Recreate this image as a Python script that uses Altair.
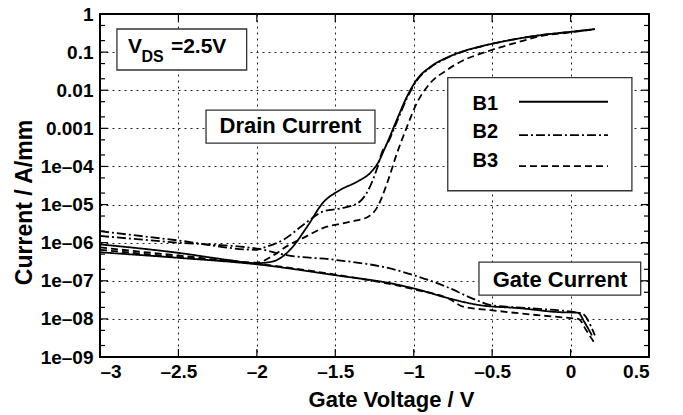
import altair as alt
import pandas as pd

# ---------------- data (gate voltage in V, current in A/mm) ----------------
b1_drain_x = [-3.0, -2.5, -2.2, -2.0, -1.9, -1.79, -1.68, -1.58, -1.47, -1.36, -1.28, -1.23,
              -1.17, -1.107, -1.043, -0.98, -0.897, -0.788, -0.686, -0.578, -0.431, -0.215, 0.0, 0.155]
b1_drain_y = [9.0e-7, 5.4e-7, 3.6e-7, 2.9e-7, 3.2e-7, 6.4e-7, 2.6e-6, 1.1e-5, 2.4e-5, 4.0e-5, 6.6e-5, 1.2e-4,
              4.1e-4, 1.7e-3, 6.8e-3, 1.9e-2, 4.0e-2, 7.2e-2, 0.105, 0.14, 0.19, 0.27, 0.34, 0.40]

b2_drain_x = [-3.0, -2.5, -2.0, -1.98, -1.83, -1.68, -1.58, -1.47, -1.36, -1.30, -1.23, -1.2,
              -1.17, -1.107, -1.043, -0.98, -0.897, -0.788, -0.686, -0.578, -0.431, -0.215, 0.0, 0.155]
b2_drain_y = [2.0e-6, 1.14e-6, 6.5e-7, 6.9e-7, 1.2e-6, 3.5e-6, 6.5e-6, 7.9e-6, 1.07e-5, 2.0e-5, 9.8e-5, 2.5e-4,
              3.8e-4, 1.5e-3, 6.2e-3, 1.8e-2, 3.9e-2, 7.0e-2, 0.103, 0.138, 0.19, 0.27, 0.34, 0.40]

b3_drain_x = [-3.0, -2.5, -2.0, -1.9, -1.8, -1.71, -1.58, -1.41, -1.29, -1.23, -1.17, -1.107,
              -1.043, -0.98, -0.897, -0.788, -0.686, -0.578, -0.5, -0.431, -0.3, -0.215, 0.0, 0.155]
b3_drain_y = [7.5e-7, 4.6e-7, 3.0e-7, 4.5e-7, 8.5e-7, 1.3e-6, 2.4e-6, 3.5e-6, 4.8e-6, 8.8e-6, 3.6e-5, 2.2e-4,
              1.1e-3, 4.6e-3, 1.5e-2, 3.4e-2, 6.0e-2, 9.0e-2, 0.115, 0.14, 0.20, 0.25, 0.33, 0.40]

b1_gate_x = [-3.0, -2.5, -2.0, -1.5, -1.09, -0.96, -0.77, -0.58, -0.32, -0.07, 0.047, 0.09, 0.136]
b1_gate_y = [5.6e-7, 4.0e-7, 2.7e-7, 1.4e-7, 7.7e-8, 5.7e-8, 3.4e-8, 2.3e-8, 1.9e-8, 1.5e-8, 1.45e-8, 8.0e-9, 3.7e-9]

b2_gate_x = [-3.0, -2.5, -2.0, -1.81, -1.49, -1.15, -1.0, -0.79, -0.6, -0.51, -0.25, 0.07, 0.155]
b2_gate_y = [1.5e-6, 1.0e-6, 7.0e-7, 4.7e-7, 3.5e-7, 2.1e-7, 1.4e-7, 6.9e-8, 3.1e-8, 2.3e-8, 1.9e-8, 1.4e-8, 3.7e-9]

b3_gate_x = [-3.0, -2.5, -2.0, -1.5, -1.0, -0.77, -0.686, -0.51, -0.25, 0.0, 0.05, 0.1, 0.15]
b3_gate_y = [6.5e-7, 4.2e-7, 2.8e-7, 1.45e-7, 6.0e-8, 3.3e-8, 2.1e-8, 1.7e-8, 1.3e-8, 1.05e-8, 1.0e-8, 5.0e-9, 2.4e-9]

x_ticks = [-3, -2.5, -2, -1.5, -1, -0.5, 0, 0.5]
y_ticks = [1e-9, 1e-8, 1e-7, 1e-6, 1e-5, 1e-4, 1e-3, 1e-2, 1e-1, 1]
y_minor = [m * 10.0 ** d for d in range(-9, 0) for m in (2, 5)]

devices = ["B1", "B2", "B3"]

# annotation boxes (data coordinates)
box_x1 = [-2.892, -2.324, -0.584, -0.783]
box_x2 = [-2.065, -1.247, 0.447, 0.391]
box_y1 = [0.404, 3.02e-3, 3.1e-7, 0.0213]
box_y2 = [0.0339, 4.11e-4, 4.2e-8, 2.3e-5]

label_text = ["Drain Current", "Gate Current"]
label_x = [-1.786, -0.0675]
label_y = [7.4e-4, 6.84e-8]

vds_text = ["V", "DS", "=2.5V"]
vds_x = [-2.8215, -2.735, -2.548]
vds_y = [0.0947, 0.055, 0.0947]
vds_size = [21, 16, 21]

leg_label_x = -0.625
leg_label_y = [3.02e-3, 5.56e-4, 9.64e-5]
leg_line_x1 = -0.329
leg_line_x2 = 0.2386
leg_line_y = [4.99e-3, 6.67e-4, 1.02e-4]

# ---------------- build tables ----------------
curves = [
    ("B1", "drain", b1_drain_x, b1_drain_y),
    ("B2", "drain", b2_drain_x, b2_drain_y),
    ("B3", "drain", b3_drain_x, b3_drain_y),
    ("B1", "gate", b1_gate_x, b1_gate_y),
    ("B2", "gate", b2_gate_x, b2_gate_y),
    ("B3", "gate", b3_gate_x, b3_gate_y),
]
rows = []
for dev, kind, xs, ys in curves:
    for i, (xv, yv) in enumerate(zip(xs, ys)):
        rows.append({"device": dev, "curve": dev + kind, "vg": xv, "cur": yv, "i": i})
df = pd.DataFrame(rows)

FONT = "Liberation Sans"
W, H = 549, 343

xscale = alt.Scale(domain=[-3, 0.5], nice=False, zero=False)
yscale = alt.Scale(type="log", domain=[1e-9, 1], nice=False)
dash_scale = alt.Scale(domain=devices, range=[[1, 0], [9, 3, 2, 3], [7, 4]])

x_axis = alt.Axis(
    values=x_ticks,
    labelExpr="datum.value < 0 ? '\u2013' + toString(-datum.value) : toString(datum.value)",
    labelFont=FONT, labelFontSize=19, labelFontWeight="bold", labelColor="black",
    labelPadding=5, ticks=False, domain=False,
    grid=True, gridDash=[2, 4], gridColor="#222", gridWidth=1,
    title="Gate Voltage / V", titleFont=FONT, titleFontSize=22, titleFontWeight="bold",
    titleColor="black", titleX=291, titleY=49, titleBaseline="alphabetic", titleAlign="center",
)
y_axis = alt.Axis(
    values=y_ticks,
    labelExpr="datum.value >= 0.001 ? toString(datum.value) : '1e\u20130' + toString(-round(log(datum.value)/LN10))",
    labelFont=FONT, labelFontSize=19, labelFontWeight="bold", labelColor="black",
    labelPadding=7, ticks=False, domain=False,
    grid=True, gridDash=[2, 4], gridColor="#222", gridWidth=1,
    title="Current / A/mm", titleFont=FONT, titleFontSize=23, titleFontWeight="bold",
    titleColor="black", titleX=-69, titleY=188, titleBaseline="alphabetic", titleAlign="center",
    titleAngle=270,
)

lines = alt.Chart(df).mark_line(color="black", strokeWidth=1.8, clip=True, interpolate="monotone").encode(
    x=alt.X("vg:Q", scale=xscale, axis=x_axis),
    y=alt.Y("cur:Q", scale=yscale, axis=y_axis),
    strokeDash=alt.StrokeDash("device:N", scale=dash_scale, legend=None),
    detail="curve:N",
    order="i:Q",
)

# inward ticks
ymaj = pd.DataFrame({"v": y_ticks})
ymin = pd.DataFrame({"v": y_minor})
xmaj = pd.DataFrame({"v": x_ticks})
tk = dict(color="black", strokeWidth=1.2)
ticks = [
    alt.Chart(ymaj).mark_rule(**tk).encode(y=alt.Y("v:Q", scale=yscale), x=alt.value(0), x2=alt.value(8)),
    alt.Chart(ymin).mark_rule(**tk).encode(y=alt.Y("v:Q", scale=yscale), x=alt.value(0), x2=alt.value(5)),
    alt.Chart(ymaj).mark_rule(**tk).encode(y=alt.Y("v:Q", scale=yscale), x=alt.value(W), x2=alt.value(W - 8)),
    alt.Chart(ymin).mark_rule(**tk).encode(y=alt.Y("v:Q", scale=yscale), x=alt.value(W), x2=alt.value(W - 5)),
    alt.Chart(xmaj).mark_rule(**tk).encode(x=alt.X("v:Q", scale=xscale), y=alt.value(0), y2=alt.value(8)),
    alt.Chart(xmaj).mark_rule(**tk).encode(x=alt.X("v:Q", scale=xscale), y=alt.value(H), y2=alt.value(H - 8)),
]

boxes_df = pd.DataFrame({"x1": box_x1, "x2": box_x2, "y1": box_y1, "y2": box_y2})
boxes = alt.Chart(boxes_df).mark_rect(fill="white", stroke="#333", strokeWidth=1.3).encode(
    x=alt.X("x1:Q", scale=xscale), x2="x2:Q",
    y=alt.Y("y1:Q", scale=yscale), y2="y2:Q",
)

labels_df = pd.DataFrame({"t": label_text, "x": label_x, "y": label_y})
labels = alt.Chart(labels_df).mark_text(
    font=FONT, fontSize=22, fontWeight="bold", color="black", align="center", baseline="alphabetic"
).encode(x=alt.X("x:Q", scale=xscale), y=alt.Y("y:Q", scale=yscale), text="t:N")

vds_df = pd.DataFrame({"t": vds_text, "x": vds_x, "y": vds_y, "s": vds_size})
vds = alt.Chart(vds_df).mark_text(
    font=FONT, fontWeight="bold", color="black", align="left", baseline="alphabetic"
).encode(
    x=alt.X("x:Q", scale=xscale), y=alt.Y("y:Q", scale=yscale), text="t:N",
    size=alt.Size("s:Q", scale=None, legend=None),
)

leg_df = pd.DataFrame({"device": devices, "y": leg_line_y, "ly": leg_label_y,
                       "x1": [leg_line_x1] * 3, "x2": [leg_line_x2] * 3, "lx": [leg_label_x] * 3})
leg_lines = alt.Chart(leg_df).mark_rule(color="black", strokeWidth=1.8).encode(
    x=alt.X("x1:Q", scale=xscale), x2="x2:Q",
    y=alt.Y("y:Q", scale=yscale),
    strokeDash=alt.StrokeDash("device:N", scale=dash_scale, legend=None),
)
leg_labels = alt.Chart(leg_df).mark_text(
    font=FONT, fontSize=20, fontWeight="bold", color="black", align="left", baseline="alphabetic"
).encode(x=alt.X("lx:Q", scale=xscale), y=alt.Y("ly:Q", scale=yscale), text="device:N")

frame = alt.Chart(ymaj).mark_rect(fill=None, stroke="black", strokeWidth=1.5).encode(
    x=alt.value(0), x2=alt.value(W), y=alt.value(0), y2=alt.value(H)
)

chart = alt.layer(lines, *ticks, boxes, labels, vds, leg_lines, leg_labels, frame).properties(
    width=W, height=H,
    autosize=alt.AutoSizeParams(type="none"),
    padding={"left": 100, "top": 14, "right": 34, "bottom": 58},
).configure_view(stroke=None).configure(background="white")

chart.save("out.html", embed_options={"renderer": "svg", "actions": False})
